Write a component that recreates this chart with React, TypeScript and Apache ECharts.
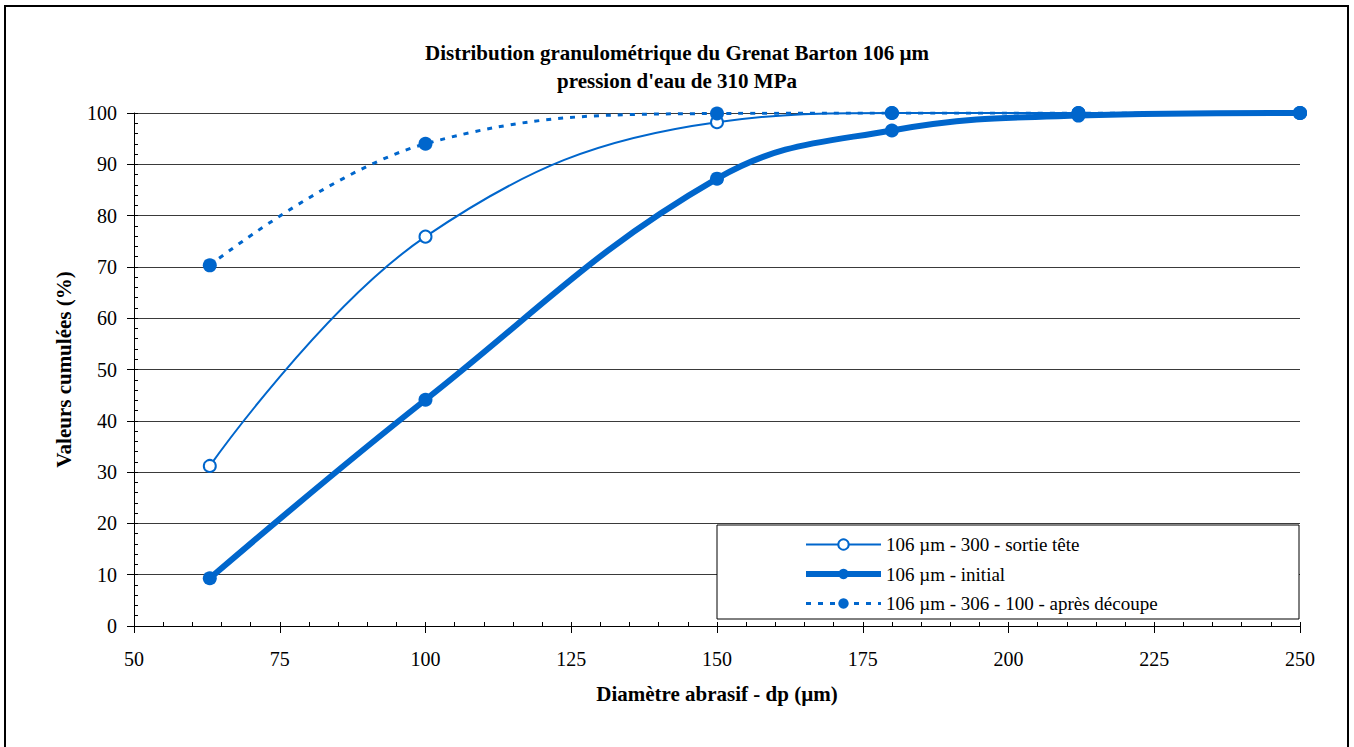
import React, { useEffect, useRef } from "react";
import * as echarts from "echarts";

const diameters = [63, 100, 150, 180, 212, 250];
const sortieTete = [31.2, 75.9, 98.2, 100, 100, 100];
const initial = [9.3, 44.1, 87.2, 96.6, 99.5, 100];
const apresDecoupe = [70.3, 94.0, 99.9, 100, 100, 100];

const seriesNames = [
  "106 µm - 300 - sortie tête",
  "106 µm - initial",
  "106 µm - 306 - 100 - après découpe",
];
const xTicks = { min: 50, max: 250, interval: 25 };
const yTicks = { min: 0, max: 100, interval: 10 };

const FONT = "Liberation Serif, Times New Roman, serif";
const BLUE = "#0066CC";

function pairs(xs: number[], ys: number[]) {
  return xs.map((x, i) => [x, ys[i]]);
}

export default function App() {
  const ref = useRef<HTMLDivElement>(null);
  useEffect(() => {
    const chart = echarts.init(ref.current!, null, { renderer: "svg" });
    const labelStyle = { fontFamily: FONT, fontSize: 20, color: "#000" };
    const nameStyle = { fontFamily: FONT, fontSize: 21, fontWeight: "bold", color: "#000" };
    const option: any = {
      animation: false,
      backgroundColor: "#fff",
      textStyle: { fontFamily: FONT },
      title: {
        text: "Distribution granulométrique du Grenat Barton 106 µm\npression d'eau de 310 MPa",
        left: "center",
        top: 34,
        textStyle: { fontFamily: FONT, fontSize: 21, fontWeight: "bold", color: "#000", lineHeight: 28 },
      },
      graphic: [
        {
          type: "rect",
          z: 100,
          shape: { x: 5, y: 6, width: 1343, height: 780 },
          style: { fill: "none", stroke: "#000", lineWidth: 2 },
          silent: true,
        },
        {
          type: "rect",
          z: 1,
          shape: { x: 717, y: 525, width: 582, height: 94 },
          style: { fill: "#fff", stroke: "#000", lineWidth: 1 },
          silent: true,
        },
      ],
      grid: { left: 134, right: 54, top: 113, bottom: 121 },
      legend: {
        orient: "vertical",
        left: 803,
        top: 535,
        padding: 0,
        itemWidth: 75,
        itemHeight: 13,
        itemGap: 10.5,
        z: 10,
        textStyle: { fontFamily: FONT, fontSize: 19, color: "#000" },
        data: [
          { name: seriesNames[0], itemStyle: { color: BLUE, borderWidth: 2 }, lineStyle: { width: 2 } },
          { name: seriesNames[1], lineStyle: { width: 6 } },
          { name: seriesNames[2], lineStyle: { width: 3 } },
        ],
      },
      xAxis: [
        {
          type: "value",
          ...xTicks,
          position: "bottom",
          axisLine: { lineStyle: { color: "#000", width: 1 } },
          axisTick: { inside: true, length: 4, lineStyle: { color: "#000" } },
          minorTick: { show: true, splitNumber: 5, length: 4, lineStyle: { color: "#000" } },
          splitLine: { show: false },
          axisLabel: { ...labelStyle, margin: 23 },
          name: "Diamètre abrasif - dp (µm)",
          nameLocation: "middle",
          nameGap: 57,
          nameTextStyle: nameStyle,
        },
        {
          type: "value",
          ...xTicks,
          position: "bottom",
          axisLine: { show: false },
          axisTick: { length: 7, lineStyle: { color: "#000" } },
          axisLabel: { show: false },
          splitLine: { show: false },
        },
      ],
      yAxis: [
        {
          type: "value",
          ...yTicks,
          position: "left",
          axisLine: { show: true, lineStyle: { color: "#000", width: 1 } },
          axisTick: { show: true, inside: true, length: 4, lineStyle: { color: "#000" } },
          minorTick: { show: true, splitNumber: 5, length: 4, lineStyle: { color: "#000" } },
          splitLine: { show: true, lineStyle: { color: "#3a3a3a", width: 1 } },
          axisLabel: { ...labelStyle, margin: 17 },
          name: "Valeurs cumulées (%)",
          nameLocation: "middle",
          nameGap: 60,
          nameTextStyle: nameStyle,
        },
        {
          type: "value",
          ...yTicks,
          position: "left",
          axisLine: { show: false },
          axisTick: { show: true, length: 7, lineStyle: { color: "#000" } },
          axisLabel: { show: false },
          splitLine: { show: false },
        },
      ],
      series: [
        {
          name: seriesNames[0],
          type: "line",
          xAxisIndex: 0,
          yAxisIndex: 0,
          smooth: 0.4,
          data: pairs(diameters, sortieTete),
          symbol: "emptyCircle",
          symbolSize: 12,
          lineStyle: { color: BLUE, width: 2 },
          itemStyle: { color: BLUE, borderWidth: 2 },
          z: 3,
        },
        {
          name: seriesNames[1],
          type: "line",
          xAxisIndex: 0,
          yAxisIndex: 0,
          smooth: 0.4,
          data: pairs(diameters, initial),
          symbol: "circle",
          symbolSize: 14,
          lineStyle: { color: BLUE, width: 6 },
          itemStyle: { color: BLUE },
          z: 4,
        },
        {
          name: seriesNames[2],
          type: "line",
          xAxisIndex: 0,
          yAxisIndex: 0,
          smooth: 0.4,
          data: pairs(diameters, apresDecoupe),
          symbol: "circle",
          symbolSize: 14,
          lineStyle: { color: BLUE, width: 3, type: [5, 7] },
          itemStyle: { color: BLUE },
          z: 5,
        },
      ],
    };
    chart.setOption(option);
    return () => chart.dispose();
  }, []);
  return (
    <div
      ref={ref}
      style={{ position: "fixed", left: 0, top: 0, width: 1354, height: 747 }}
    />
  );
}
